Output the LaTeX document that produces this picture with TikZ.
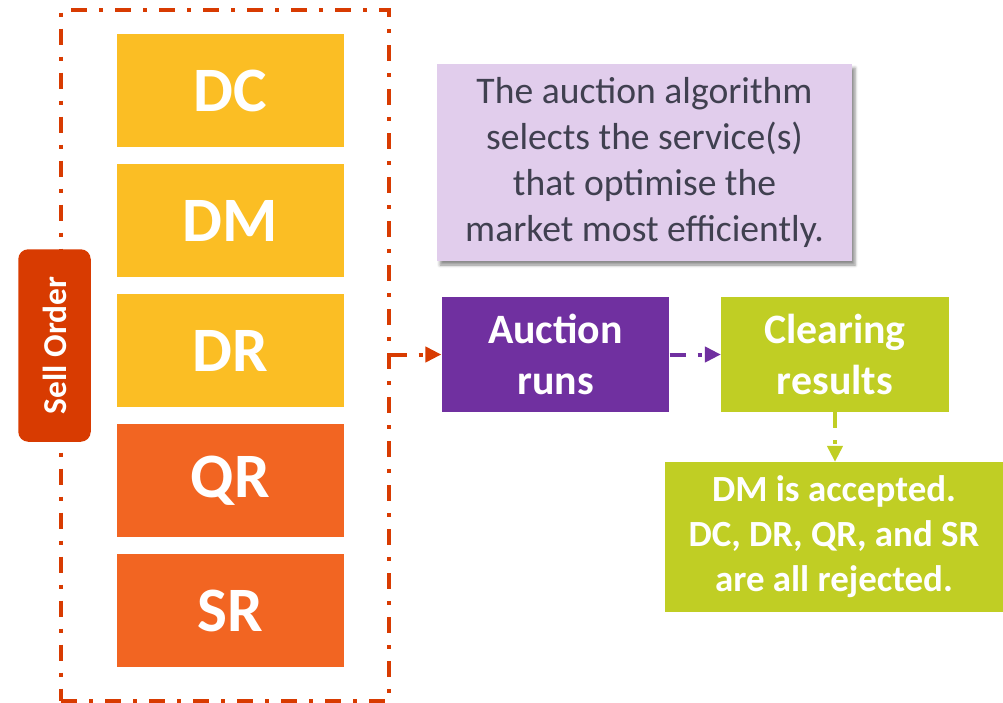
\documentclass[tikz,border=0pt]{standalone}
\usepackage{fontspec}
\setmainfont{Carlito}
\usetikzlibrary{arrows.meta,shadows.blur}

\definecolor{orderred}{RGB}{216,59,1}
\definecolor{srvyellow}{RGB}{251,190,36}
\definecolor{srvorange}{RGB}{242,101,34}
\definecolor{auctionpurple}{RGB}{112,48,160}
\definecolor{clearinggreen}{RGB}{192,206,36}
\definecolor{notebg}{RGB}{225,205,236}
\definecolor{notetext}{RGB}{64,64,80}

\begin{document}
\begin{tikzpicture}[
    service/.style={minimum width=4.54cm, minimum height=2.26cm, text=white,
      font=\fontsize{36}{43}\selectfont\bfseries},
    stage/.style={minimum width=4.55cm, minimum height=2.29cm, text=white, align=center,
      font=\fontsize{23.8}{29}\selectfont\bfseries},
    dashdot/.style={line width=0.08cm, dash pattern=on 0.32cm off 0.24cm on 0.08cm off 0.24cm},
    flow/.style={dashdot, -{Triangle[length=0.32cm,width=0.3cm]}}
  ]
    \useasboundingbox (0,0) rectangle (20.06,-14.06);

    % sell order frame
    \node[draw=orderred, dashdot, minimum width=6.554cm, minimum height=13.81cm] (order) at (4.497,-7.113) {};

    \foreach \name/\lbl/\y/\col in {dc/DC/-1.81/srvyellow, dm/DM/-4.41/srvyellow, dr/DR/-7.01/srvyellow,
                                   qr/QR/-9.61/srvorange, sr/SR/-12.21/srvorange}
      \node[service, fill=\col] (\name) at (4.61,\y) {\lbl};

    \node[fill=orderred, rounded corners=0.2cm, rotate=90, minimum width=3.85cm, minimum height=1.45cm,
      text=white, font=\fontsize{19}{22}\selectfont\bfseries] (sell) at (1.09,-6.91) {Sell Order};

    \node[fill=notebg, text=notetext, minimum width=8.3cm, minimum height=3.94cm, align=center,
      blur shadow={shadow xshift=0.06cm, shadow yshift=-0.08cm, shadow blur radius=0.06cm, shadow opacity=45},
      font=\fontsize{21.4}{26}\selectfont] (note) at (12.89,-3.25)
      {The auction algorithm\\selects the service(s)\\that optimise the\\market most efficiently.};

    \node[stage, fill=auctionpurple] (auction) at (11.11,-7.09) {Auction\\runs};
    \node[stage, fill=clearinggreen] (clearing) at (16.70,-7.09) {Clearing\\results};

    \node[fill=clearinggreen, text=white, minimum width=6.76cm, minimum height=2.99cm, align=center,
      font=\fontsize{21}{25.6}\selectfont\bfseries] (result) at (16.68,-10.74)
      {DM is accepted.\\DC, DR, QR, and SR\\are all rejected.};

    \draw[flow, orderred] (order.east |- auction) -- (auction.west);
    \draw[flow, auctionpurple] (auction.east) -- (clearing.west);
    \draw[flow, clearinggreen] (clearing.south) -- (clearing.south |- result.north);
  \end{tikzpicture}
\end{document}
